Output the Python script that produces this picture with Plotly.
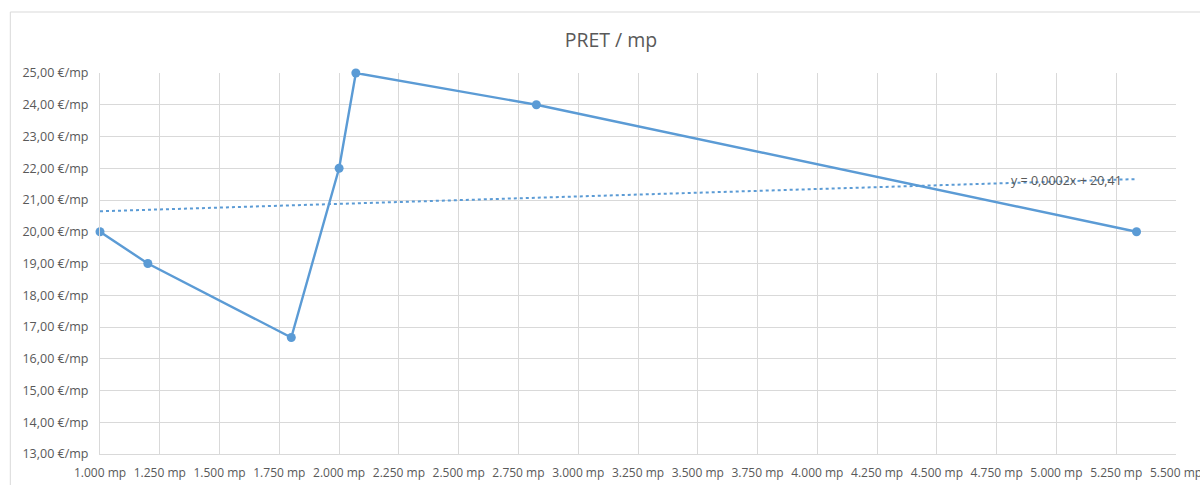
import numpy as np
import plotly.graph_objects as go

# Data
suprafata_mp = [1000, 1200, 1800, 2000, 2070, 2825, 5335]
pret_mp = [20.00, 19.00, 16.67, 22.00, 25.00, 24.00, 20.00]

x_ticks = [1000 + 250 * i for i in range(19)]
x_tick_labels = [f"{v:,}".replace(",", ".") + " mp" for v in x_ticks]
y_ticks = list(range(13, 26))
y_tick_labels = [f"{v:.2f}".replace(".", ",") + " €/mp" for v in y_ticks]
trend_label = "y = 0,0002x + 20,41"
title_text = "PRET / mp"

# Linear trendline (least squares, like Excel)
slope, intercept = np.polyfit(suprafata_mp, pret_mp, 1)
trend_x = [min(suprafata_mp), max(suprafata_mp)]
trend_y = [slope * v + intercept for v in trend_x]

BLUE = "#5B9BD5"
GRID = "#D9D9D9"
TXT = "#595959"
FONT = "Open Sans"
FS = 12.5

fig = go.Figure()
fig.add_trace(go.Scatter(
    x=trend_x, y=trend_y, mode="lines",
    line=dict(color=BLUE, width=2, dash="dot"),
    hoverinfo="skip", showlegend=False, cliponaxis=False))
fig.add_trace(go.Scatter(
    x=suprafata_mp, y=pret_mp, mode="lines+markers",
    line=dict(color=BLUE, width=2.4),
    marker=dict(color=BLUE, size=9),
    showlegend=False, cliponaxis=False))

fig.add_annotation(x=5041, y=21.63, xref="x", yref="y", text=trend_label,
                   showarrow=False, font=dict(family=FONT, size=FS, color=TXT))

# Chart area border
fig.add_shape(type="rect", xref="paper", yref="paper",
              x0=(10 - 99.7) / 1076, x1=(1215 - 99.7) / 1076,
              y0=(454 - 500) / 381, y1=(454 - 12) / 381,
              line=dict(color="#D9D9D9", width=1), layer="below")

fig.update_layout(
    width=1200, height=485,
    margin=dict(l=99.7, r=24.3, t=73.3, b=31, autoexpand=False),
    paper_bgcolor="white", plot_bgcolor="white",
    title=dict(text=title_text, x=611 / 1200, xref="container", xanchor="center",
               y=1 - 40 / 485, yref="container", yanchor="middle",
               font=dict(family=FONT, size=19.5, color=TXT)),
    font=dict(family=FONT, size=FS, color=TXT),
)
fig.update_xaxes(range=[1000, 5500], tickvals=x_ticks, ticktext=x_tick_labels,
                 showgrid=True, gridcolor=GRID, gridwidth=1,
                 showline=True, linecolor=GRID, linewidth=1, automargin=False,
                 zeroline=False, ticks="", ticklabelstandoff=8,
                 ticklabeloverflow="allow",
                 tickfont=dict(family=FONT, size=12, color=TXT))
fig.update_yaxes(range=[13, 25], tickvals=y_ticks, ticktext=y_tick_labels,
                 showgrid=True, gridcolor=GRID, gridwidth=1,
                 showline=True, linecolor=GRID, linewidth=1, automargin=False,
                 zeroline=False, ticks="", ticklabelstandoff=8,
                 ticklabeloverflow="allow",
                 tickfont=dict(family=FONT, size=FS, color=TXT))

fig.write_html("out.html", config={"displayModeBar": False},
               post_script="document.body.style.margin='0';document.body.style.overflow='hidden';")
